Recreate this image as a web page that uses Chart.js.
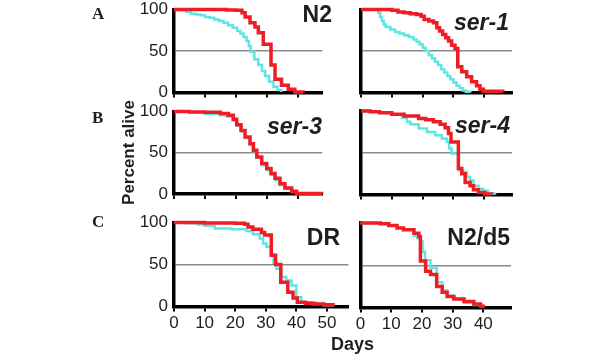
<!DOCTYPE html>
<html><head><meta charset="utf-8">
<script src="https://cdn.jsdelivr.net/npm/chart.js@4.4.1/dist/chart.umd.min.js"></script>
<style>
html,body{margin:0;padding:0;background:#fff;}
#wrap{position:relative;width:600px;height:360px;overflow:hidden;background:#fff;}
canvas{position:absolute;left:0;top:0;}
</style></head><body>
<div id="wrap">
<canvas id="pA1" width="600" height="360"></canvas>
<canvas id="pA2" width="600" height="360"></canvas>
<canvas id="pB1" width="600" height="360"></canvas>
<canvas id="pB2" width="600" height="360"></canvas>
<canvas id="pC1" width="600" height="360"></canvas>
<canvas id="pC2" width="600" height="360"></canvas>
</div>
<script>
// ---- tick values ----
const dayTicks = [0, 10, 20, 30, 40, 50];
const pctTicks = [0, 50, 100];

// ---- panel names ----
const panelTitles = ['N2', 'ser-1', 'ser-3', 'ser-4', 'DR', 'N2/d5'];
const rowLetters = ['A', 'B', 'C'];
const yAxisLabel = 'Percent alive';
const xAxisLabel = 'Days';

// ---- survival data (day, percent alive) ----
const n2RedDays  = [0,12,17,20,22,23,24.6,26.2,27.3,28.9,31.4,32.7,34.8,37,39.1,41.8];
const n2RedPct   = [100,100,99.5,99,96,91,84,79,72,58,33,16,8.6,3.8,0.5,0];
const n2CyanDays = [0,2,4,5.5,7,8.5,10,11.5,13,14.5,16,17.5,19,20.5,21.5,22.5,23.5,24.2,24.8,26,27.3,28.5,29.5,30.8,32.2,33.5,34.8];
const n2CyanPct  = [100,99,97,95,94,93,91,90,88,86,84,81,78,74,71,67,62,56,49,40,33,26,20,13,7,3,0.5];

const ser1RedDays  = [0,8,10,12,14,16,18,19.5,20.5,22,23.5,24.6,25.5,26.5,27.5,28.4,29.4,30.5,31.4,32.7,34.3,35.9,37.5,38.6,39.7,46];
const ser1RedPct   = [100,100,99,97,96,95,94,92,88,86,84,78,74,70,66,62,57,53,31,25,19,13,8,4,1.5,0.5];
const ser1CyanDays = [0,5,5.6,6.2,6.8,7.4,8,9.5,11,12.5,14,15.5,17,18,19,20,21,22,23,24,25,26,27,28,29,30,31,32,33,34,35.5];
const ser1CyanPct  = [100,100,96,91,86,82,79,76,73,71,69,67,64,61,58,54,50,45,41,37,33,28,24,20,16,12,8,5,2.5,1,0];

const ser3RedDays  = [0,5,10,15,17.6,19.2,20.3,21.7,23,24.6,25.7,26.8,28.4,30,31.4,32.7,34.3,35.9,38.1,39.7,47.8];
const ser3RedPct   = [100,99.5,99,97.5,95.5,90.5,84,77,69,61,53,45,37,31,25,19,12.5,7.3,3.2,0.5,0];
const ser3CyanDays = [0,5,10,15,17,19,20.3,21.7,23,24.6,25.7,26.8,28.4,30,31.4,32.7,34.3,35.9,38.1,39.7];
const ser3CyanPct  = [100,99,97,95.5,94,89,83,76,68,60,52,44,35,29,23,17,11,6,2.5,0];

const ser4RedDays  = [0,3,6,10,14,18.7,21,23.5,25.7,27.3,28.4,29.2,31.6,32.7,33.8,35.4,36.5,38.1,40.2,42.4];
const ser4RedPct   = [100,99,98,96,94,91,89.5,87,84,80,73,63,31,25,14.5,10.5,5.6,2.4,0.5,0];
const ser4CyanDays = [0,3,6,10,13.3,14.9,16,18.7,21.4,24.1,26.2,27.8,28.6,29.4,31.6,33.2,34.3,35.4,36.5,38.1,39.7,41.3,43.5];
const ser4CyanPct  = [100,99,98,96,92,87,84,79,75,71,67,63,55,49,29,27,21,17,10.5,6.5,4.4,1,0];

const drRedDays  = [0,10,20,23.1,24.2,25.8,28.6,29.6,31.8,33.2,34.9,37.2,38.9,40.3,43,46,49,52];
const drRedPct   = [100,99.5,99,98,94.6,92,88,85,61,50,29,17,10,5,4,3,2,0.5];
const drCyanDays = [0,4,7.8,10,13.3,18.7,23.6,25.8,28,29.1,30.2,31.6,32.5,33.5,35.1,36.7,38.4,40,41.6,45,49,52];
const drCyanPct  = [100,99,97.5,96,93,92,90,86,81,75,71,61,52,45,35,31,25,11,5,3,1.5,0];

const d5RedDays  = [0,6.5,9.2,11.9,14,17.4,19,19.5,21.2,22.8,24.8,26.6,28.2,30.4,33.7,36.9,39.1,40];
const d5RedPct   = [100,99,97,94,92,88,84,55,43,39,25,18,13,10,7,4,1.5,0];
const d5CyanDays = [0,6.5,9.2,11.9,14,17.4,18.5,19.5,20.2,21,22.8,24.8,26.6,28.2,30.4,33.7,36.9,39.1,40];
const d5CyanPct  = [100,99,97,94,92,85,82,78,66,56,47,30,20,14,10,6,3,1,0];

// ---- styling / layout ----
const RED = '#ee1c24';
const CYAN = '#5fe6e0';
const SANS = "'Liberation Sans', Arial, sans-serif";
const SERIF = "'Liberation Serif', 'Times New Roman', serif";
const TXT = '#1e1e1e';

const textPlugin = {
  id: 'panelTexts',
  afterDraw(chart, args, opts) {
    const ctx = chart.ctx;
    (opts.items || []).forEach(it => {
      ctx.save();
      ctx.font = it.font;
      ctx.fillStyle = it.color || TXT;
      ctx.textAlign = it.align || 'left';
      ctx.textBaseline = 'alphabetic';
      ctx.translate(it.x, it.y);
      if (it.rot) ctx.rotate(it.rot);
      ctx.fillText(it.text, 0, 0);
      ctx.restore();
    });
  }
};

function pts(days, pct) { return days.map((d, i) => ({x: d, y: pct[i]})); }

const TITLE_FONT = "bold 23px " + SANS;
const TITLE_IT = "italic bold 23px " + SANS;
const LETTER_FONT = "bold 17px " + SERIF;

const panels = [
  {id:'pA1', red:[n2RedDays,n2RedPct], cyan:[n2CyanDays,n2CyanPct], area:[174,9.5,322.3,92.5], xMax:48, yLab:true, xLab:false,
   texts:[{text:panelTitles[0], font:TITLE_FONT, align:'right', x:332, y:22},
          {text:rowLetters[0], font:LETTER_FONT, align:'left', x:92, y:18.5}]},
  {id:'pA2', red:[ser1RedDays,ser1RedPct], cyan:[ser1CyanDays,ser1CyanPct], area:[361,9.5,512,92.5], xMax:49, yLab:false, xLab:false,
   texts:[{text:panelTitles[1], font:TITLE_IT, align:'right', x:509, y:30}]},
  {id:'pB1', red:[ser3RedDays,ser3RedPct], cyan:[ser3CyanDays,ser3CyanPct], area:[174,111.5,322.3,194], xMax:48, yLab:true, xLab:false,
   texts:[{text:panelTitles[2], font:TITLE_IT, align:'right', x:322, y:133.5},
          {text:rowLetters[1], font:LETTER_FONT, align:'left', x:92, y:123},
          {text:yAxisLabel, font:"bold 17px " + SANS, align:'center', x:134, y:152.5, rot:-Math.PI/2}]},
  {id:'pB2', red:[ser4RedDays,ser4RedPct], cyan:[ser4CyanDays,ser4CyanPct], area:[361,111,512,194.5], xMax:49, yLab:false, xLab:false,
   texts:[{text:panelTitles[3], font:TITLE_IT, align:'right', x:510, y:133}]},
  {id:'pC1', red:[drRedDays,drRedPct], cyan:[drCyanDays,drCyanPct], area:[174,222.5,348.4,306.5], xMax:57, yLab:true, xLab:true,
   texts:[{text:panelTitles[4], font:TITLE_FONT, align:'right', x:340, y:245},
          {text:rowLetters[2], font:LETTER_FONT, align:'left', x:92, y:227}]},
  {id:'pC2', red:[d5RedDays,d5RedPct], cyan:[d5CyanDays,d5CyanPct], area:[360.5,223,511,307.5], xMax:49, yLab:false, xLab:true,
   texts:[{text:panelTitles[5], font:TITLE_FONT, align:'right', x:510, y:245},
          {text:xAxisLabel, font:"bold 18px " + SANS, align:'center', x:352.5, y:350}]}
];

const WY = 40, HX = 34;

panels.forEach(p => {
  const [L, T, R, B] = p.area;
  new Chart(document.getElementById(p.id), {
    type: 'line',
    data: {
      datasets: [
        {data: pts(p.red[0], p.red[1]), borderColor: RED, borderWidth: 3.5, stepped: true, pointRadius: 0, fill: false, clip: false},
        {data: pts(p.cyan[0], p.cyan[1]), borderColor: CYAN, borderWidth: 2.5, stepped: true, pointRadius: 0, fill: false, clip: false}
      ]
    },
    options: {
      responsive: false,
      animation: false,
      devicePixelRatio: 1,
      layout: {padding: {left: L - WY, top: T, right: 600 - R, bottom: 360 - B - HX}},
      plugins: {legend: {display: false}, tooltip: {enabled: false}, title: {display: false},
                panelTexts: {items: p.texts}},
      scales: {
        x: {
          type: 'linear', min: 0, max: p.xMax,
          afterBuildTicks: s => { s.ticks = dayTicks.filter(v => v <= p.xMax).map(v => ({value: v})); },
          ticks: {display: p.xLab, includeBounds: false, color: TXT, padding: 2, maxRotation: 0, autoSkip: false,
                  font: {family: SANS, size: 17}},
          grid: {drawOnChartArea: false, drawTicks: true, tickLength: 5, color: '#000', tickColor: '#000', lineWidth: 2},
          border: {display: true, color: '#000', width: 3.5},
          afterFit: s => { s.height = HX; s.paddingLeft = 0; s.paddingRight = 0; }
        },
        y: {
          type: 'linear', min: 0, max: 100,
          afterBuildTicks: s => { s.ticks = pctTicks.map(v => ({value: v})); },
          ticks: {display: p.yLab, color: TXT, padding: 6, font: {family: SANS, size: 17}},
          grid: {drawTicks: false, lineWidth: 1.5,
                 color: ctx => (ctx.tick && ctx.tick.value === 50) ? '#8a8a8a' : 'rgba(0,0,0,0)'},
          border: {display: true, color: '#000', width: 3.5},
          afterFit: s => { s.width = WY; s.paddingTop = 0; s.paddingBottom = 0; }
        }
      }
    },
    plugins: [textPlugin]
  });
});
</script>
</body></html>
